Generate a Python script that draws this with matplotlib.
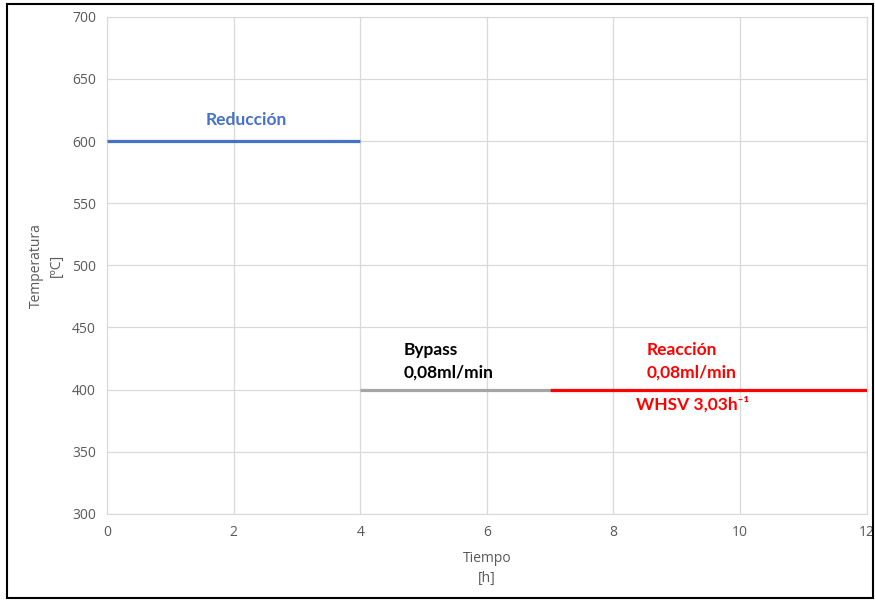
import matplotlib.pyplot as plt
from matplotlib.patches import Rectangle

# stages of the run: time (h) and temperature (ºC)
red_t = [0, 4]
red_temp = [600, 600]
bypass_t = [4, 7]
bypass_temp = [400, 400]
reac_t = [7, 12]
reac_temp = [400, 400]

xticks = [0, 2, 4, 6, 8, 10, 12]
yticks = [300, 350, 400, 450, 500, 550, 600, 650, 700]

plt.rcParams['font.family'] = ['Open Sans', 'DejaVu Sans']

fig = plt.figure(figsize=(8.75, 6.01), dpi=100)
ax = fig.add_axes([0.1223, 0.1448, 0.8682, 0.8274])

ax.plot(red_t, red_temp, color='#4472C4', lw=2.3, solid_capstyle='butt', zorder=3)
ax.plot(bypass_t, bypass_temp, color='#A5A5A5', lw=2.3, solid_capstyle='butt', zorder=3)
ax.plot(reac_t, reac_temp, color='#FF0000', lw=2.3, solid_capstyle='butt', zorder=3)

ax.set_xlim(0, 12)
ax.set_ylim(300, 700)
ax.set_xticks(xticks)
ax.set_yticks(yticks)
ax.grid(True, color='#D9D9D9', lw=0.9)
ax.set_axisbelow(True)
for s in ax.spines.values():
    s.set_color('#D9D9D9')
ax.tick_params(length=0, colors='#595959', labelsize=10, pad=8)

ax.set_xlabel('Tiempo\n[h]', color='#595959', fontsize=10, labelpad=8, linespacing=1.4)
ax.set_ylabel('Temperatura\n[ºC]', color='#595959', fontsize=10, labelpad=6, linespacing=1.4)

txt = dict(family=['Lato', 'DejaVu Sans'], fontweight='bold', fontsize=12.5)
ax.text(2.2, 617, 'Reducción', color='#4472C4', ha='center', va='center', **txt)
ax.text(4.68, 432, 'Bypass', color='black', ha='left', va='center', **txt)
ax.text(4.68, 413.5, '0,08ml/min', color='black', ha='left', va='center', **txt)
ax.text(8.52, 432, 'Reacción', color='#FF0000', ha='left', va='center', **txt)
ax.text(8.52, 413.5, '0,08ml/min', color='#FF0000', ha='left', va='center', **txt)
ax.text(8.36, 388, 'WHSV 3,03h⁻¹', color='#FF0000', ha='left', va='center', **txt)

fig.patches.append(Rectangle((7 / 875, 3 / 601), 866 / 875, 594 / 601, transform=fig.transFigure,
                             fill=False, edgecolor='black', lw=1.5))

fig.savefig('out.png', dpi=100)
